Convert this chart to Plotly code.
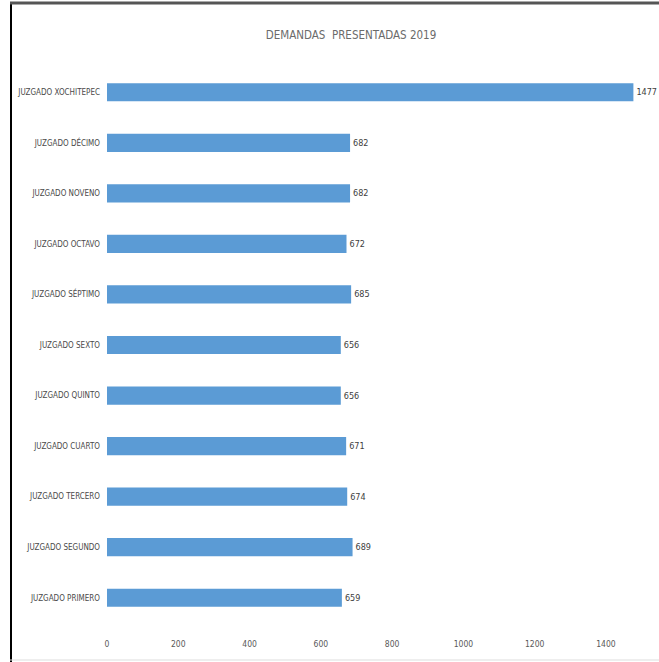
import plotly.graph_objects as go

categories = ["JUZGADO PRIMERO", "JUZGADO SEGUNDO", "JUZGADO TERCERO", "JUZGADO CUARTO",
              "JUZGADO QUINTO", "JUZGADO SEXTO", "JUZGADO SÉPTIMO", "JUZGADO OCTAVO",
              "JUZGADO NOVENO", "JUZGADO DÉCIMO", "JUZGADO XOCHITEPEC"]
values = [659, 689, 674, 671, 656, 656, 685, 672, 682, 682, 1477]
tick_vals = [0, 200, 400, 600, 800, 1000, 1200, 1400]
title_text = "DEMANDAS\u00a0 PRESENTADAS 2019"

FONT = "DejaVu Sans Condensed, Liberation Sans Narrow, sans-serif"

W, H = 659, 662
ml, mr, mt, mb = 107, 0, 67, 39
pw, ph = W - ml - mr, H - mt - mb

def px(x):
    return (x - ml) / pw

def py(y):
    return (H - mb - y) / ph

fig = go.Figure()
fig.add_trace(go.Bar(
    y=categories, x=values, orientation="h",
    marker=dict(color="#5B9BD5", line=dict(width=0)),
    width=0.36,
    text=[str(v) for v in values], textposition="outside",
    textfont=dict(family=FONT, size=9, color="#404040"),
    cliponaxis=False,
))

fig.update_layout(
    width=W, height=H,
    margin=dict(l=ml, r=mr, t=mt, b=mb, autoexpand=False),
    paper_bgcolor="white", plot_bgcolor="white",
    showlegend=False,
    title=dict(text=title_text, x=351 / W, xanchor="center", y=1 - 35 / H, yanchor="middle",
               font=dict(family=FONT, size=11.5, color="#6b6b6b")),
    xaxis=dict(range=[0, pw / 0.3564], tickvals=tick_vals, ticktext=[str(t) for t in tick_vals],
               showgrid=False, zeroline=False, showline=False, ticks="", automargin=False,
               tickfont=dict(family=FONT, size=8.5, color="#595959"), ticklabelstandoff=14),
    yaxis=dict(showgrid=False, zeroline=False, showline=False, ticks="", automargin=False,
               tickfont=dict(family=FONT, size=8, color="#4a4a4a"), ticklabelstandoff=6),
    shapes=[
        dict(type="line", xref="paper", yref="paper", x0=px(11), x1=px(11), y0=py(3), y1=py(662),
             line=dict(color="black", width=2)),
        dict(type="line", xref="paper", yref="paper", x0=px(10), x1=px(659), y0=py(3), y1=py(3),
             line=dict(color="#555555", width=3)),
        dict(type="line", xref="paper", yref="paper", x0=px(10), x1=px(659), y0=py(660), y1=py(660),
             line=dict(color="#dddddd", width=1)),
    ],
)

fig.write_html("out.html", config={"displayModeBar": False},
               post_script="document.body.style.margin='0px';document.body.style.overflow='hidden';")
